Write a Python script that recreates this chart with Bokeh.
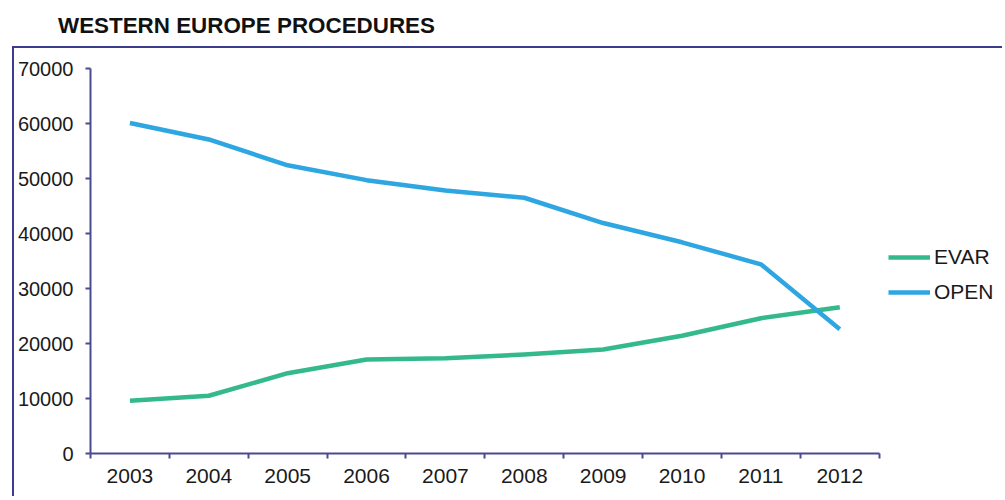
from bokeh.plotting import figure
from bokeh.models import Range1d, FixedTicker, Legend, LegendItem, Div
from bokeh.layouts import column
from bokeh.embed import file_html
from bokeh.resources import INLINE

years = ["2003", "2004", "2005", "2006", "2007", "2008", "2009", "2010", "2011", "2012"]
evar = [9600, 10500, 14600, 17100, 17300, 18000, 18900, 21400, 24600, 26600]
open_ = [60100, 57100, 52400, 49700, 47800, 46500, 41900, 38400, 34400, 22600]
y_ticks = [0, 10000, 20000, 30000, 40000, 50000, 60000, 70000]

FONT = "Liberation Sans"
AXIS_COL = "#4a4a90"
BOX_COL = "#3c3c8c"

n = len(years)
xs = [i + 0.5 for i in range(n)]
AXIS_PX = 787      # pixel length of the category axis
FRAME_PX = 912     # frame extends under the legend
x_end = n * FRAME_PX / AXIS_PX

title = Div(text="WESTERN EUROPE PROCEDURES", width=1000, height=46,
            margin=(0, 0, 0, 0),
            styles={"font-family": FONT, "font-size": "22.4px",
                    "font-weight": "bold", "color": "#111111",
                    "padding-left": "58px", "padding-top": "13px",
                    "line-height": "1.2", "box-sizing": "border-box"})

p = figure(frame_width=FRAME_PX, frame_height=383, output_backend="svg",
           toolbar_location=None,
           x_range=Range1d(0, x_end), y_range=Range1d(0, 70000),
           min_border_left=73, min_border_right=0, min_border_top=20,
           min_border_bottom=45)
p.margin = (0, 0, 0, 12)
p.styles = {"border-left": "2px solid " + BOX_COL,
            "border-top": "2px solid " + BOX_COL,
            "box-sizing": "border-box"}
p.title = None
p.outline_line_color = None
p.xgrid.grid_line_color = None
p.ygrid.grid_line_color = None
p.background_fill_color = "white"
p.border_fill_color = "white"

r_evar = p.line(xs, evar, line_color="#34b98b", line_width=4.5, line_join="round")
r_open = p.line(xs, open_, line_color="#2ea6e1", line_width=4.5, line_join="round")

# x axis
xa = p.xaxis[0]
xa.bounds = (0, n)
xa.ticker = FixedTicker(ticks=xs, minor_ticks=list(range(n + 1)))
xa.major_label_overrides = {x: y for x, y in zip(xs, years)}
xa.major_tick_line_color = None
xa.minor_tick_line_color = AXIS_COL
xa.minor_tick_line_width = 2
xa.minor_tick_out = 5
xa.minor_tick_in = 0
xa.axis_line_color = AXIS_COL
xa.axis_line_width = 2
xa.major_label_text_font = FONT
xa.major_label_text_font_size = "21px"
xa.major_label_text_color = "#1a1a1a"
xa.major_label_standoff = 9

# y axis
ya = p.yaxis[0]
ya.ticker = FixedTicker(ticks=y_ticks)
ya.major_label_overrides = {t: str(t) for t in y_ticks}
ya.minor_tick_line_color = None
ya.major_tick_line_color = AXIS_COL
ya.major_tick_line_width = 2
ya.major_tick_out = 5
ya.major_tick_in = 0
ya.axis_line_color = AXIS_COL
ya.axis_line_width = 2
ya.major_label_text_font = FONT
ya.major_label_text_font_size = "20px"
ya.major_label_text_color = "#1a1a1a"
ya.major_label_standoff = 12

# legend
legend = Legend(items=[LegendItem(label="EVAR", renderers=[r_evar]),
                       LegendItem(label="OPEN", renderers=[r_open])],
                location=(798, 149), orientation="vertical",
                glyph_width=42, glyph_height=20, label_height=20,
                label_standoff=4, spacing=11, padding=0, margin=0,
                border_line_color=None, background_fill_alpha=0,
                label_text_font=FONT, label_text_font_size="21px",
                label_text_color="#1a1a1a")
p.add_layout(legend)

layout = column(title, p, spacing=0)
open("out.html", "w").write(file_html(layout, INLINE))
